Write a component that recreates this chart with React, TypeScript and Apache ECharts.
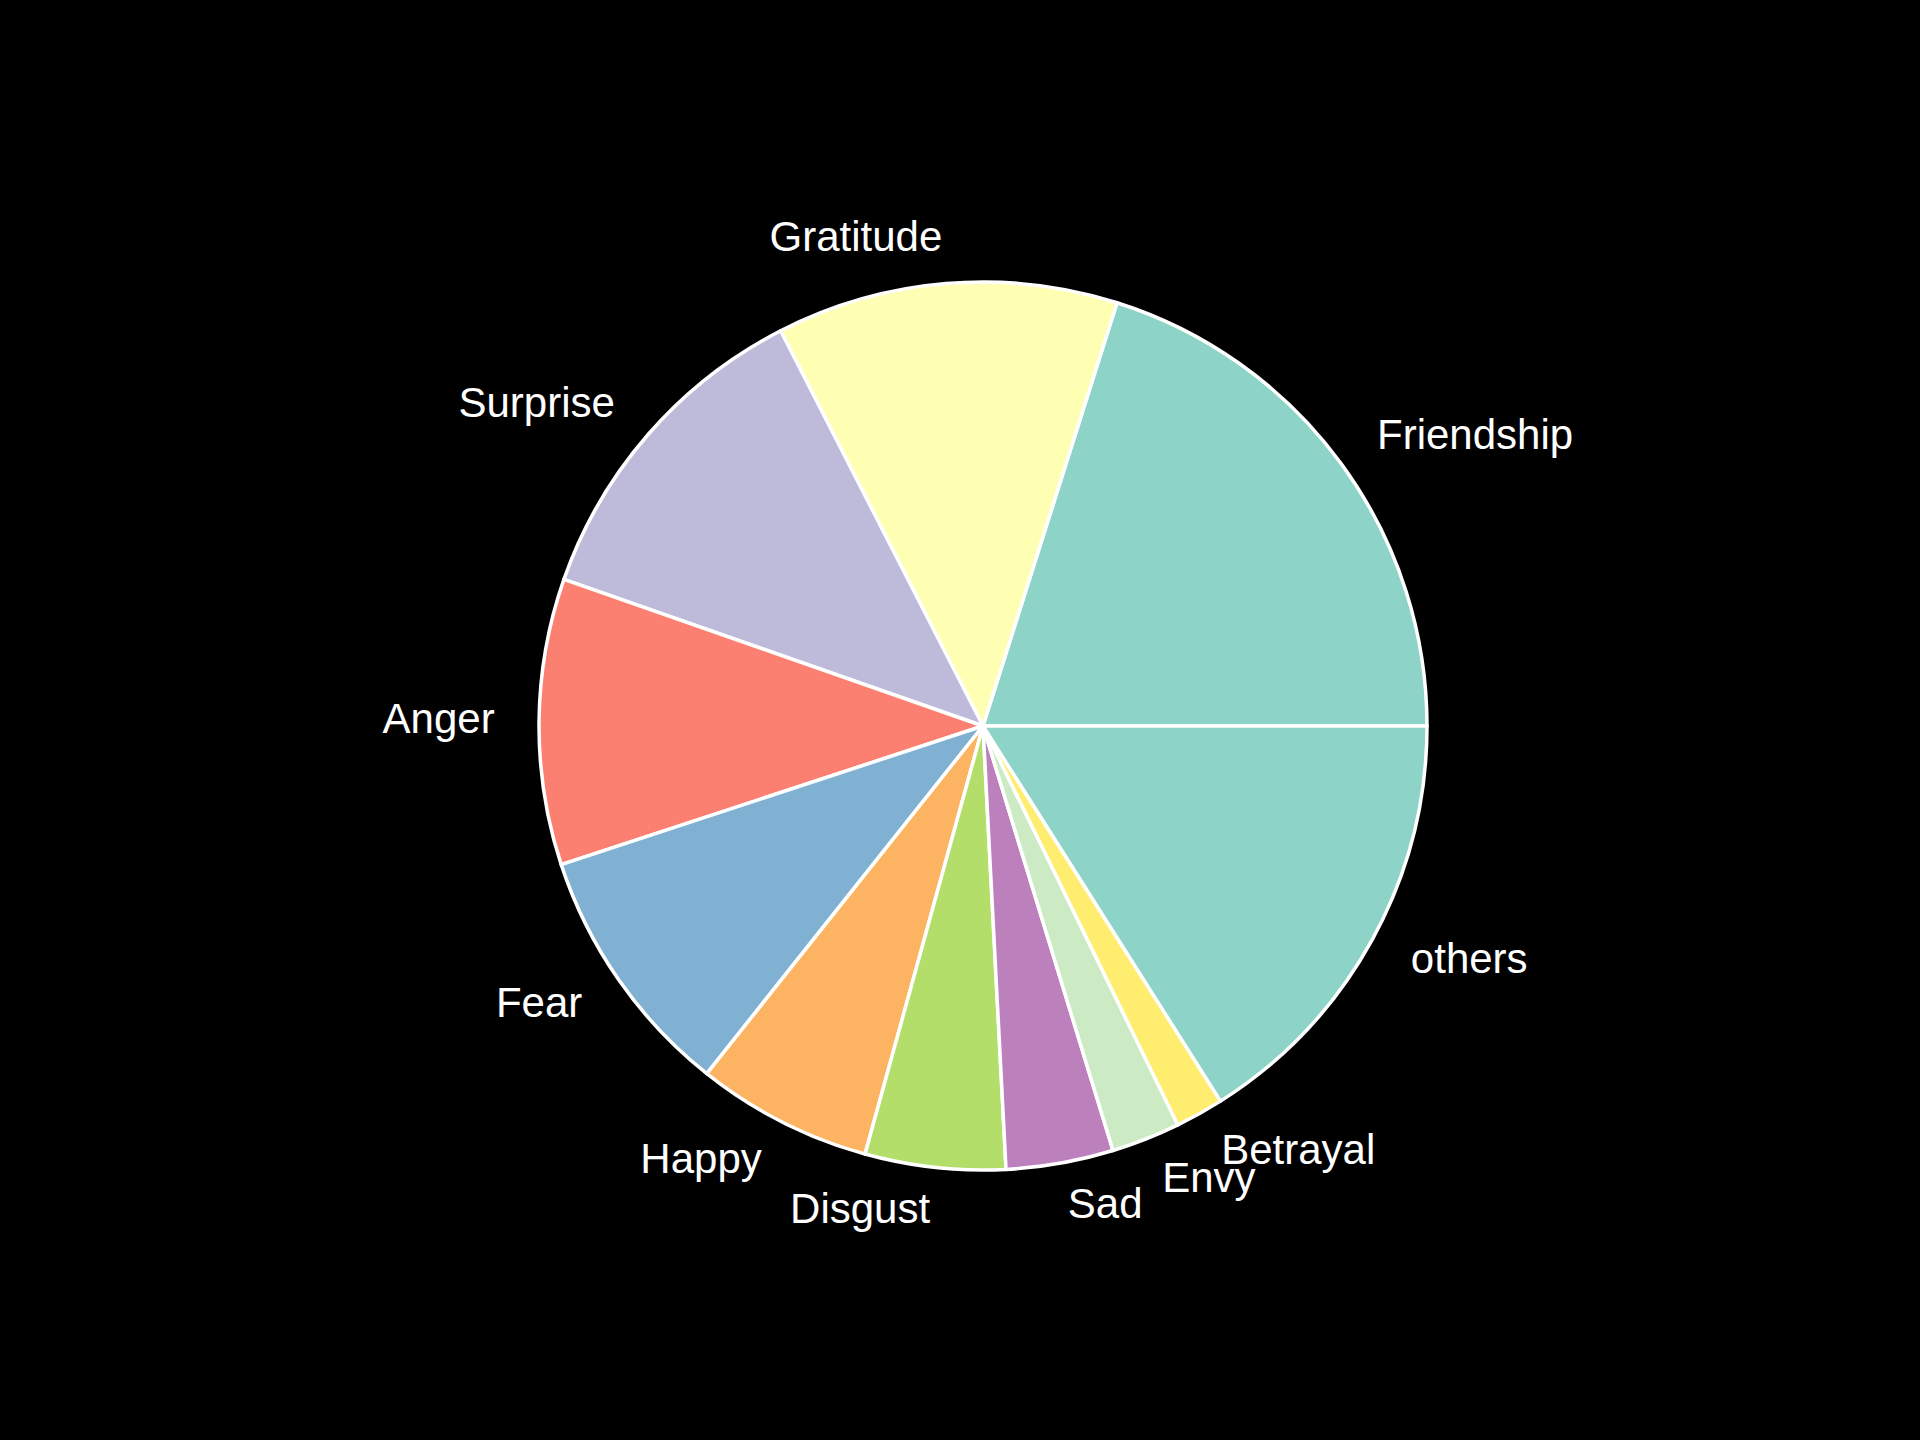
import React, { useEffect, useRef } from "react";
import * as echarts from "echarts";

const categories = ["Friendship", "Gratitude", "Surprise", "Anger", "Fear", "Happy", "Disgust", "Sad", "Envy", "Betrayal", "others"];
const values = [20.1, 12.4, 12.1, 10.4, 9.25, 6.4, 5.1, 3.9, 2.5, 1.75, 16.0];
const colors = ["#8dd3c7", "#ffffb3", "#bebada", "#fb8072", "#80b1d3", "#fdb462", "#b3de69", "#bc80bd", "#ccebc5", "#ffed6f", "#8dd3c7"];

export default function App() {
  const ref = useRef<HTMLDivElement>(null);
  useEffect(() => {
    document.body.style.margin = "0";
    document.body.style.background = "#000";
    const chart = echarts.init(ref.current!, null, { renderer: "svg" });
    const R = 444;
    chart.setOption({
      animation: false,
      backgroundColor: "#000000",
      series: [
        {
          type: "pie",
          center: [983, 726],
          radius: [0, R],
          startAngle: 0,
          clockwise: false,
          avoidLabelOverlap: false,
          minShowLabelAngle: 0,
          labelLayout: { hideOverlap: false, moveOverlap: null },
          data: categories.map((name, i) => ({
            name,
            value: values[i],
            itemStyle: { color: colors[i] },
          })),
          itemStyle: { borderColor: "#ffffff", borderWidth: 3.5 },
          label: {
            show: true,
            position: "outside",
            color: "#ffffff",
            fontFamily: "Liberation Sans, Arial, sans-serif",
            fontSize: 42,
            distanceToLabelLine: 0,
            offset: [0, -3],
            formatter: "{b}",
          },
          labelLine: { show: false, length: R * 0.1, length2: 0 },
          emphasis: { disabled: true },
        },
      ],
    });
    return () => chart.dispose();
  }, []);
  return <div ref={ref} style={{ width: 1920, height: 1440 }} />;
}
